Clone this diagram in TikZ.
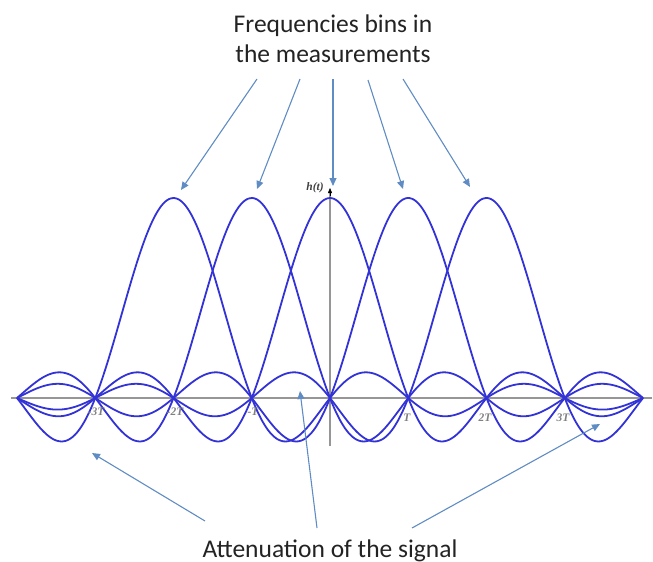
\documentclass[tikz,border=0pt]{standalone}
\usepackage{fontspec}
\setmainfont{Carlito}
\usetikzlibrary{arrows.meta}
\definecolor{curveblue}{RGB}{50,50,215}
\definecolor{arrowblue}{RGB}{96,140,196}
\definecolor{axisgray}{RGB}{150,150,150}
\definecolor{txtgray}{RGB}{35,35,35}
\tikzset{
  declare function={sincf(\u)=sin(180*\u)/(pi*\u);},
  sinccurve/.style={curveblue,line width=1.8pt,line join=round},
  callout/.style={arrowblue,line width=1.1pt,-{Triangle[length=8pt,width=7pt]}},
  axisline/.style={axisgray,line width=1.6pt},
  ticklabel/.style={font=\fontsize{11.5}{11.5}\selectfont\bfseries\itshape,text=gray,inner sep=0pt},
  bigtext/.style={font=\fontsize{25.5}{30}\selectfont,text=txtgray,inner sep=0pt,align=center}
}
\begin{document}
\begin{tikzpicture}[x=1pt,y=-1pt]
\useasboundingbox (0,0) rectangle (653,562);
% axes
\draw[axisline] (11,398) -- (652,398);
\draw[axisline] (330,446) -- (330,193);
\draw[black,-{Triangle[length=5pt,width=4pt]}] (330,196) -- (330,188);
\node[font=\fontsize{11.5}{11.5}\selectfont\bfseries\itshape,text=darkgray,inner sep=0pt] (ht) at (315,188) {\fontspec{Liberation Serif}h(t)};
% sinc curves
\foreach \c in {-2,-1,0,1,2}{
  \draw[sinccurve] plot[domain=-4:4,samples=400,smooth] ({330+78.25*\x},{398-200*sincf(\x-\c)});
}
% tick labels
\node[ticklabel] (m3) at (96,412) {\fontspec{Liberation Serif}-3T};
\node[ticklabel] (m2) at (175,412) {\fontspec{Liberation Serif}-2T};
\node[ticklabel] (m1) at (253,412) {\fontspec{Liberation Serif}-T};
\node[ticklabel] (p1) at (407,418) {\fontspec{Liberation Serif}T};
\node[ticklabel] (p2) at (485,418) {\fontspec{Liberation Serif}2T};
\node[ticklabel] (p3) at (563,418) {\fontspec{Liberation Serif}3T};
% texts
\node[bigtext,anchor=base] (title) at (333,62) {Frequencies bins in\\the measurements};
\node[bigtext,anchor=base] (bottom) at (330,557) {Attenuation of the signal};
% arrow endpoints
\coordinate (s1) at (257,79);  \coordinate (e1) at (181,190);
\coordinate (s2) at (300,79);  \coordinate (e2) at (257,189);
\coordinate (s3) at (333,79);  \coordinate (e3) at (333,186);
\coordinate (s4) at (368,80);  \coordinate (e4) at (403,189);
\coordinate (s5) at (403,79);  \coordinate (e5) at (470,187);
\coordinate (b1) at (205,521); \coordinate (t1) at (92,453);
\coordinate (b2) at (317,528); \coordinate (t2) at (300,391);
\coordinate (b3) at (412,528); \coordinate (t3) at (600,424);
\foreach \a/\b in {s1/e1,s2/e2,s3/e3,s4/e4,s5/e5,b1/t1,b2/t2,b3/t3}{
  \draw[callout] (\a) -- (\b);
}
\end{tikzpicture}
\end{document}
